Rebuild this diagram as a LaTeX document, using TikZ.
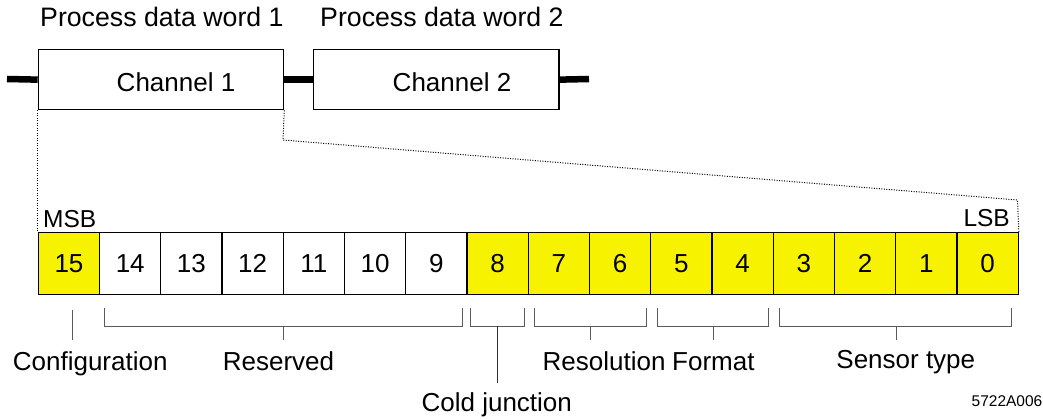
\documentclass[tikz,border=0pt]{standalone}
\usepackage{fontspec}
\setmainfont{Liberation Sans}
\definecolor{bitYellow}{RGB}{247,242,0}
\definecolor{brk}{RGB}{90,90,90}
\begin{document}
\begin{tikzpicture}[x=1pt,y=-1pt,
  txt/.style={inner sep=0pt,font=\fontsize{26}{30}\selectfont},
  headtxt/.style={inner sep=0pt,font=\fontsize{26.7}{31}\selectfont},
  smalltxt/.style={inner sep=0pt,font=\fontsize{24.5}{28}\selectfont},
  codetxt/.style={inner sep=0pt,font=\fontsize{15.5}{18}\selectfont},
  chbox/.style={draw,line width=1.3pt,minimum width=245.3pt,minimum height=60pt,inner sep=0pt,anchor=north west},
  bit/.style={draw,line width=1.3pt,minimum width=61.24pt,minimum height=62pt,inner sep=0pt,anchor=north west,font=\fontsize{26}{30}\selectfont},
  ybit/.style={bit,fill=bitYellow},
  bus/.style={line width=6.5pt},
  link/.style={line width=1pt,dash pattern=on 1pt off 1.5pt},
  brace/.style={draw=brk,line width=1pt}]
\useasboundingbox (0,0) rectangle (1043,419);

% header labels
\node[headtxt,anchor=base west] (pdw1) at (40,26.7) {Process data word 1};
\node[headtxt,anchor=base west] (pdw2) at (320,26.7) {Process data word 2};

% channel boxes
\node[chbox] (ch1) at (37.7,49) {};
\node[chbox] (ch2) at (313,49) {};
\node[txt,anchor=base] (ch1t) at (176,91.5) {Channel 1};
\node[txt,anchor=base] (ch2t) at (452,91.5) {Channel 2};

% bus
\coordinate (busL) at (7,79);
\coordinate (busR) at (589,79);
\draw[bus] (busL) -- (ch1.west);
\draw[bus] (ch1.east) -- (ch2.west);
\draw[bus] (ch2.east) -- (busR);

% bit cells
\foreach \i/\s in {15/ybit,14/bit,13/bit,12/bit,11/bit,10/bit,9/bit,8/ybit,7/ybit,6/ybit,5/ybit,4/ybit,3/ybit,2/ybit,1/ybit,0/ybit}{
  \node[\s] (b\i) at ({37.7+(15-\i)*61.24},232) {\i};
}

% MSB / LSB
\node[smalltxt,anchor=base west] (msb) at (43,228) {MSB};
\node[smalltxt,anchor=base east] (lsb) at (1010,227) {LSB};

% dotted expansion lines
\coordinate (d1) at (283,140);
\coordinate (d2) at (1017.5,200);
\draw[link] (ch1.south west) -- (b15.north west);
\draw[link] (ch1.south east) -- (d1) -- (d2) -- (b0.north east);

% brackets
\draw[brace] (72.7,310) -- (72.7,339.5);
\draw[brace] (104.3,308.5) -- (104.3,326) -- (462.3,326) -- (462.3,308.5);
\draw[brace] (283,326) -- (283,340);
\draw[brace] (470.7,308.5) -- (470.7,326) -- (524,326) -- (524,308.5);
\draw[draw=black!80,line width=1pt] (497.3,326) -- (497.3,382.5);
\draw[brace] (534.5,308.5) -- (534.5,326) -- (646,326) -- (646,308.5);
\draw[brace] (590,326) -- (590,340);
\draw[brace] (657,308.5) -- (657,326) -- (768.5,326) -- (768.5,308.5);
\draw[brace] (713,326) -- (713,340);
\draw[brace] (779.5,308.5) -- (779.5,326) -- (1011,326) -- (1011,308.5);
\draw[brace] (896,326) -- (896,340);

% field labels
\node[txt,anchor=base] (cfg) at (90.2,370) {Configuration};
\node[txt,anchor=base] (res) at (278.5,370) {Reserved};
\node[txt,anchor=base] (cj) at (496.8,411.5) {Cold junction};
\node[txt,anchor=base west] (resol) at (542.5,370.5) {Resolution};
\node[txt,anchor=base west] (fmt) at (672,370.5) {Format};
\node[txt,anchor=base] (sens) at (905.8,368.5) {Sensor type};
\node[codetxt,anchor=base] (code) at (1007,406.5) {5722A006};
\end{tikzpicture}
\end{document}
